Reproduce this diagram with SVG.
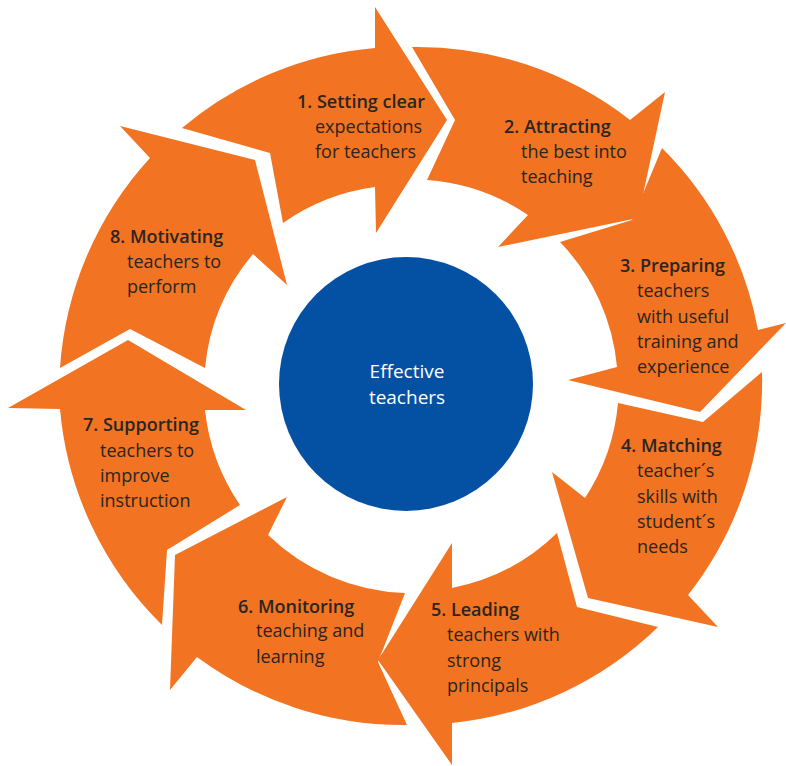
<svg xmlns="http://www.w3.org/2000/svg" width="786" height="766" viewBox="0 0 786 766">
  <style>
    .seg { fill: #F27321; }
    .hub { fill: #0451A4; }
    text { font-family: "Open Sans", "Noto Sans", "Liberation Sans", sans-serif; font-size: 18px; fill: #2A2522; }
    .title { font-weight: 600; }
    .hubtxt { fill: #FFFFFF; font-size: 19px; text-anchor: middle; }
  </style>
  <rect width="786" height="766" fill="#FFFFFF"/>

  <!-- Ring of eight clockwise curved arrows around a common centre (~411,385) -->
  <g id="step1">
    <path class="seg" d="M182,128 A345,345 0 0 1 375,48 L375,7 L447,120 L376,233 L375,187 A207,207 0 0 0 283,223 L270,153 Z"/>
    <text x="297" y="108" class="title">1. Setting clear</text>
    <text x="315" y="133">expectations</text>
    <text x="315" y="158">for teachers</text>
  </g>

  <g id="step2">
    <path class="seg" d="M412,47 A345,345 0 0 1 630,120 L665,92 L638,218 L498,247 L528,215 A207,207 0 0 0 427,180 L455,120 Z"/>
    <text x="504" y="133" class="title">2. Attracting</text>
    <text x="521" y="158">the best into</text>
    <text x="521" y="183">teaching</text>
  </g>

  <g id="step3">
    <path class="seg" d="M662,148 A345,345 0 0 1 758,330 L786,323 L700,412 L568,380 L617,367 A207,207 0 0 0 560,242 L632,220 Z"/>
    <text x="620" y="272" class="title">3. Preparing</text>
    <text x="637" y="297">teachers</text>
    <text x="637" y="323">with useful</text>
    <text x="637" y="348">training and</text>
    <text x="637" y="373">experience</text>
  </g>

  <g id="step4">
    <path class="seg" d="M762,372 A345,345 0 0 1 688,595 L718,627 L588,598 L552,472 L585,498 A207,207 0 0 0 618,403 L703,422 Z"/>
    <text x="621" y="452" class="title">4. Matching</text>
    <text x="637" y="477">teacher´s</text>
    <text x="637" y="503">skills with</text>
    <text x="637" y="528">student´s</text>
    <text x="637" y="553">needs</text>
  </g>

  <g id="step5">
    <path class="seg" d="M658,627 A345,345 0 0 1 452,723 L452,765 L378,660 L452,543 L452,588 A207,207 0 0 0 557,533 L577,607 Z"/>
    <text x="431" y="616" class="title">5. Leading</text>
    <text x="447" y="641">teachers with</text>
    <text x="447" y="667">strong</text>
    <text x="447" y="692">principals</text>
  </g>

  <g id="step6">
    <path class="seg" d="M407,725 A345,345 0 0 1 197,657 L170,690 L175,555 L287,497 L268,535 A207,207 0 0 0 405,593 L378,662 Z"/>
    <text x="238" y="613" class="title">6. Monitoring</text>
    <text x="256" y="637">teaching and</text>
    <text x="256" y="663">learning</text>
  </g>

  <g id="step7">
    <path class="seg" d="M162,625 A345,345 0 0 1 60,409 L8,408 L128,340 L246,410 L205,410 A207,207 0 0 0 240,505 L167,550 Z"/>
    <text x="83" y="431" class="title">7. Supporting</text>
    <text x="100" y="457">teachers to</text>
    <text x="100" y="482">improve</text>
    <text x="100" y="507">instruction</text>
  </g>

  <g id="step8">
    <path class="seg" d="M60,368 A345,345 0 0 1 150,158 L120,126 L255,160 L287,285 L253,254 A207,207 0 0 0 205,368 L130,329 Z"/>
    <text x="110" y="243" class="title">8. Motivating</text>
    <text x="127" y="268">teachers to</text>
    <text x="127" y="293">perform</text>
  </g>

  <!-- Central hub -->
  <g id="hub">
    <circle class="hub" cx="406" cy="384" r="127"/>
    <text x="407" y="378" class="hubtxt">Effective</text>
    <text x="407" y="404" class="hubtxt">teachers</text>
  </g>
</svg>
